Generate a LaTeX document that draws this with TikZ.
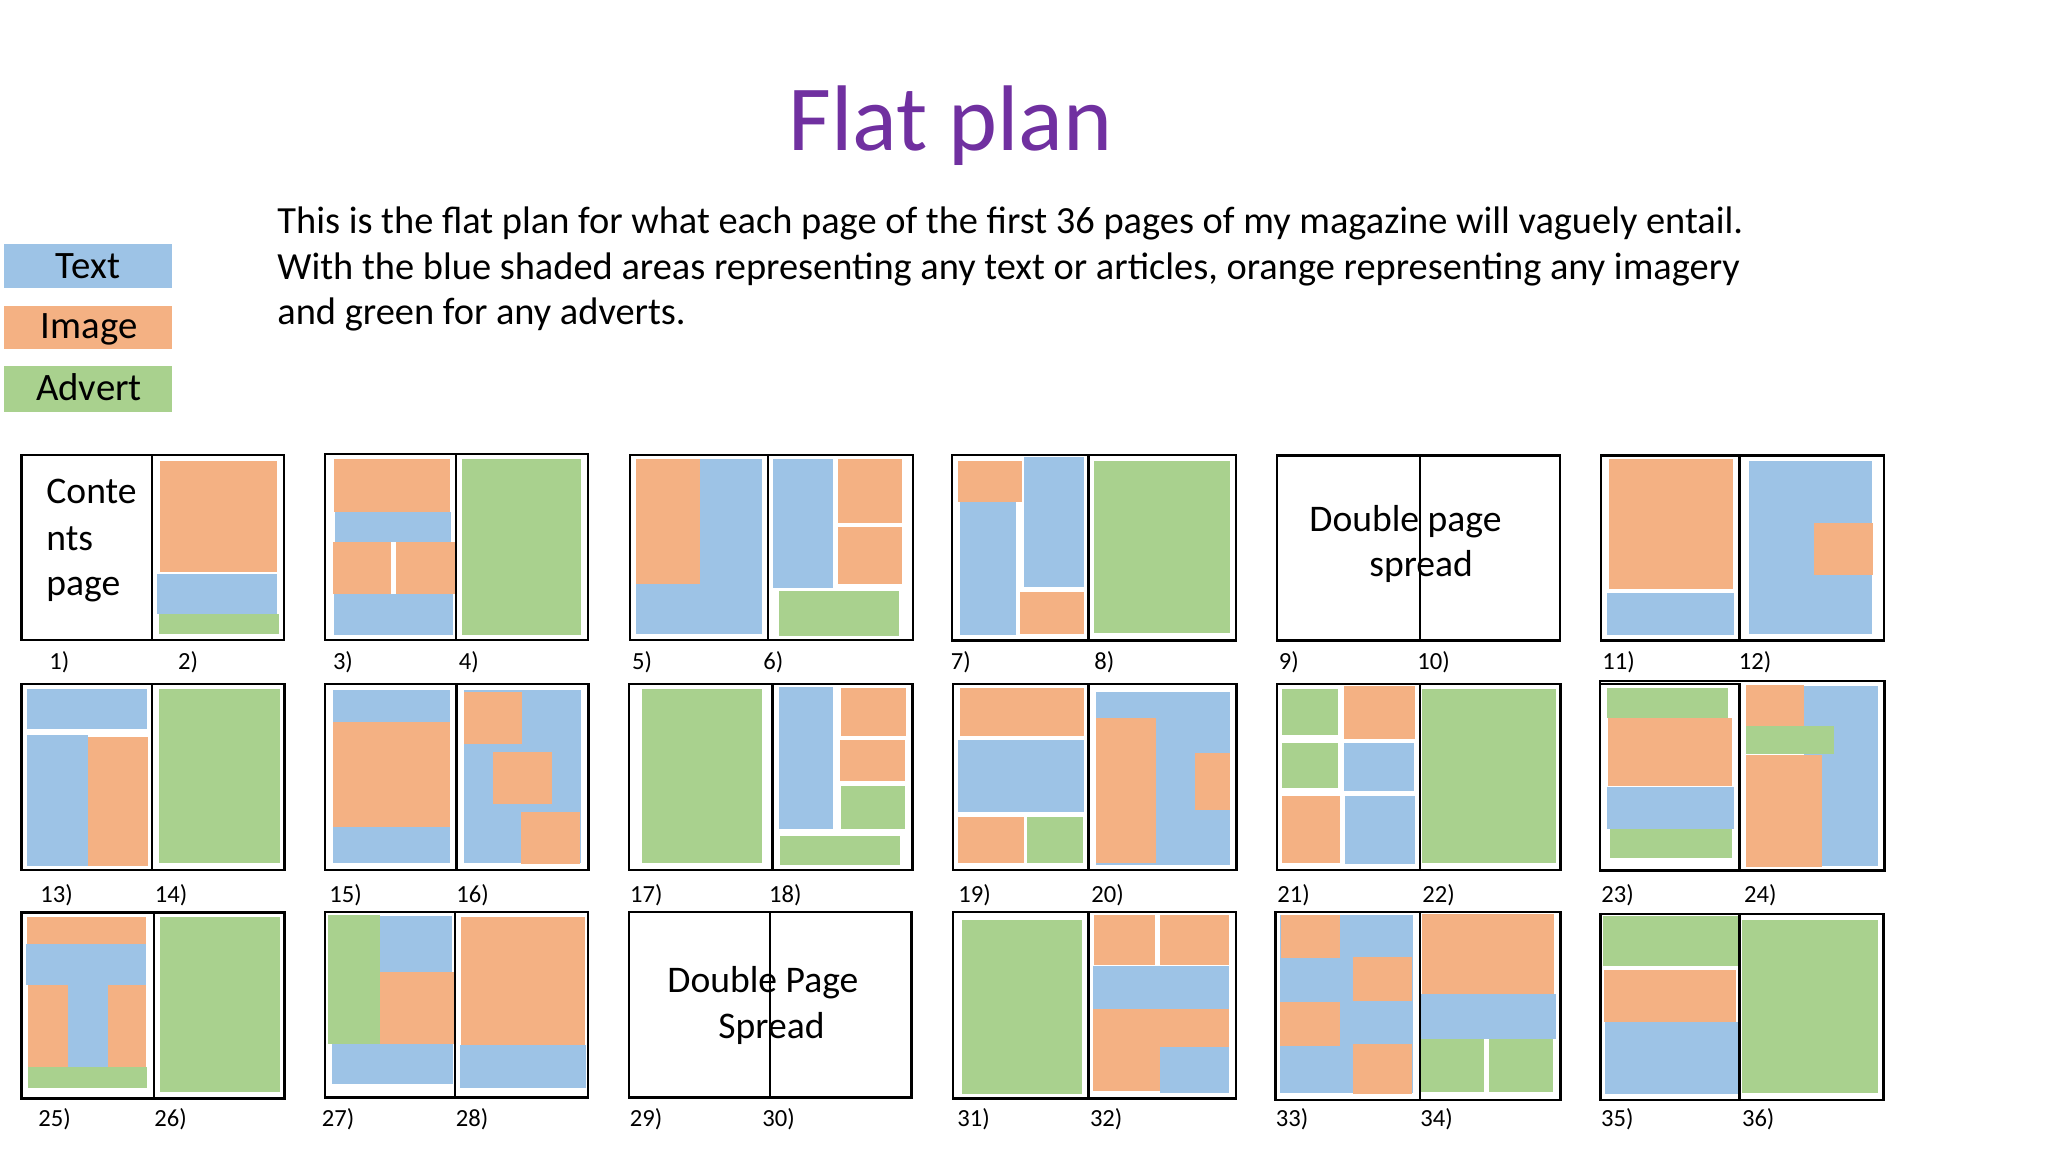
\documentclass[tikz,border=0pt]{standalone}
\usepackage{fontspec}
\setmainfont{Carlito}
\definecolor{txtc}{HTML}{9DC3E6}
\definecolor{imgc}{HTML}{F4B183}
\definecolor{advc}{HTML}{A9D18E}
\definecolor{titlec}{HTML}{7030A0}
\newcommand\pgframe[5]{\draw[pg] (#1,#2) rectangle (#3,#5); \draw[pg] (#3,#2) rectangle (#4,#5);}
\begin{document}
\begin{tikzpicture}[x=0.5pt,y=-0.5pt,
  txt/.style={fill=txtc},
  img/.style={fill=imgc},
  adv/.style={fill=advc},
  pg/.style={draw=black,line width=1.4pt},
  thinpg/.style={draw=black,line width=0.7pt},
  num/.style={anchor=base west,inner sep=0pt,font=\fontsize{12.3}{14}\selectfont},
  body/.style={anchor=base west,inner sep=0pt,font=\fontsize{18.8}{22}\selectfont},
  para/.style={anchor=base west,inner sep=0pt,font=\fontsize{19.2}{23}\selectfont},
  leg/.style={anchor=base,inner sep=0pt,font=\fontsize{19.4}{22}\selectfont}]
\useasboundingbox[fill=white] (0,0) rectangle (2048,1152);

% title and description
\node[anchor=base west,inner sep=0pt,text=titlec,font=\fontsize{46.6}{52}\selectfont] (title) at (788,150) {Flat plan};
\node[para] (para1) at (277,233) {This is the flat plan for what each page of the first 36 pages of my magazine will vaguely entail.};
\node[para] (para2) at (277,279) {With the blue shaded areas representing any text or articles, orange representing any imagery};
\node[para] (para3) at (277,324) {and green for any adverts.};

% legend
\fill[txt] (4,244) rectangle (172,288);
\fill[img] (4,306) rectangle (172,349);
\fill[adv] (4,366) rectangle (172,412);
\node[leg] (legtxt) at (88,278.5) {Text};
\node[leg] (legimg) at (89,338) {Image};
\node[leg] (legadv) at (89,400.5) {Advert};

% ===== Row 1 =====
% 1-2
\fill[img] (160,461) rectangle (277,572);
\fill[txt] (157,574) rectangle (277,614);
\fill[adv] (158.5,614.3) rectangle (278.6,634);
\pgframe{21.5}{455}{152}{284}{640}
\node[body] (c1) at (46,503) {Conte};
\node[body] (c2) at (46,550) {nts};
\node[body] (c3) at (46,595) {page};
% 3-4
\fill[img] (334,459) rectangle (450,511.7);
\fill[txt] (335,511.7) rectangle (451,541.7);
\fill[img] (332.6,541.7) rectangle (391,594);
\fill[img] (396,541.7) rectangle (454.5,594);
\fill[txt] (333.5,594) rectangle (453,635);
\fill[adv] (462,459) rectangle (581,635);
\pgframe{325}{454}{456}{588}{640}
% 5-6
\fill[txt] (636,459) rectangle (762,634.3);
\fill[img] (636,459) rectangle (700,584);
\fill[txt] (772.7,459) rectangle (833,587.7);
\fill[img] (838,459) rectangle (902,523);
\fill[img] (838,527) rectangle (902,584);
\fill[adv] (778.5,591) rectangle (899,635.7);
\pgframe{630}{455}{768}{913}{640}
% 7-8
\fill[img] (958,460.7) rectangle (1022,502);
\fill[txt] (960,502) rectangle (1016,634.7);
\fill[txt] (1023.6,457) rectangle (1084,587);
\fill[img] (1020.4,592) rectangle (1084,634);
\fill[adv] (1094,460.7) rectangle (1230,633);
\pgframe{952}{455}{1088.7}{1236}{640.5}
% 9-10
\draw[pg] (1277,455.5) rectangle (1560,640.5);
\draw[thinpg] (1420,455.5) -- (1420,640.5);
\node[body] (d1) at (1309,531.7) {Double page};
\node[body] (d2) at (1369,576.7) {spread};
% 11-12
\fill[img] (1609,459.3) rectangle (1732.7,588.7);
\fill[txt] (1607,593.3) rectangle (1733.5,635.3);
\fill[txt] (1749,461.3) rectangle (1872,634.3);
\fill[img] (1814,522.7) rectangle (1873,575);
\pgframe{1601}{455.3}{1739.6}{1884}{640.5}

% ===== Row 2 =====
% 13-14
\fill[txt] (26.8,689) rectangle (146.9,729.3);
\fill[txt] (26.8,735) rectangle (88,865.7);
\fill[img] (88,736.7) rectangle (148.2,865.7);
\fill[adv] (159.4,688.7) rectangle (280.4,863.3);
\pgframe{21.5}{684}{152}{284.4}{870}
% 15-16
\fill[txt] (332.6,690) rectangle (449.6,862.7);
\fill[img] (332.6,721.7) rectangle (449.6,827.3);
\fill[txt] (464.3,690) rectangle (581.25,862.7);
\fill[img] (464.3,692) rectangle (522.3,744);
\fill[img] (493.3,752) rectangle (551.8,804);
\fill[img] (521.4,812) rectangle (580.4,864.3);
\pgframe{325}{684}{456.7}{588.4}{870}
% 17-18
\fill[adv] (641.9,689.3) rectangle (762,863.3);
\fill[txt] (779,686.7) rectangle (833.4,829.3);
\fill[img] (841.4,688) rectangle (906.2,736);
\fill[img] (840,740) rectangle (904.8,781);
\fill[adv] (841.4,786) rectangle (904.8,829.3);
\fill[adv] (779.8,835.7) rectangle (900.4,865);
\pgframe{629}{684}{772.7}{912.4}{870}
% 19-20
\fill[img] (960,688.3) rectangle (1084,736.3);
\fill[txt] (958,739.7) rectangle (1084,812.3);
\fill[img] (958,817) rectangle (1024,862.7);
\fill[adv] (1026.7,817) rectangle (1082.5,862.7);
\fill[txt] (1095.9,691.7) rectangle (1229.8,865);
\fill[img] (1096,718) rectangle (1155.7,863.3);
\fill[img] (1195,752.7) rectangle (1229.8,810);
\pgframe{953}{684}{1088.7}{1236.5}{870}
% 21-22
\fill[adv] (1282.4,688.7) rectangle (1337.6,735);
\fill[img] (1344,686) rectangle (1415,738.7);
\fill[adv] (1282.4,742.7) rectangle (1337.6,788.3);
\fill[txt] (1344,742.7) rectangle (1414.3,790.7);
\fill[img] (1282,796) rectangle (1340,862.7);
\fill[txt] (1345,796) rectangle (1415,864);
\fill[adv] (1422.4,689) rectangle (1556.3,863.3);
\pgframe{1277}{684}{1420}{1560.4}{870}
% 23-24
\fill[adv] (1607.3,688.3) rectangle (1728.2,718.3);
\fill[img] (1608.2,718.3) rectangle (1732.2,786);
\fill[adv] (1609.8,829.3) rectangle (1732.2,857.7);
\fill[txt] (1607.3,787.3) rectangle (1733.5,829.3);
\fill[txt] (1804,685.7) rectangle (1877.6,866);
\fill[img] (1745.7,685) rectangle (1804,726);
\fill[adv] (1745.7,726) rectangle (1833.5,754);
\fill[img] (1745.7,755) rectangle (1822.4,866.7);
\draw[pg] (1600,681) rectangle (1884.5,870.7);
\draw[pg] (1600,684) rectangle (1739.6,870.7);

% ===== Row 3 =====
% 25-26
\fill[img] (26.8,917.3) rectangle (146.4,944.3);
\fill[txt] (25.9,944.3) rectangle (146.4,985);
\fill[txt] (67.9,985) rectangle (108,1067.3);
\fill[img] (27.7,985) rectangle (67.9,1067.3);
\fill[img] (108,985) rectangle (146.4,1067.3);
\fill[adv] (27.7,1067.3) rectangle (147.3,1087.7);
\fill[adv] (159.8,917.3) rectangle (280,1091.7);
\pgframe{21.5}{912.7}{154}{284.4}{1098.3}
% 27-28
\fill[adv] (328,915) rectangle (380,1044);
\fill[txt] (380,916) rectangle (452.2,972.3);
\fill[img] (380,972.3) rectangle (454.5,1044);
\fill[txt] (332,1044) rectangle (453,1084.3);
\fill[img] (460.7,916.7) rectangle (584.8,1045.3);
\fill[txt] (459.8,1045.3) rectangle (586.2,1087.7);
\pgframe{325}{912}{455}{588}{1097.7}
% 29-30
\draw[pg] (629,912) rectangle (911.5,1097.7);
\draw[thinpg] (770,912) -- (770,1097.7);
\node[body] (e1) at (667,992.7) {Double Page};
\node[body] (e2) at (718,1038.3) {Spread};
% 31-32
\fill[adv] (962,920) rectangle (1082,1094);
\fill[img] (1094,915) rectangle (1155.3,965);
\fill[img] (1160,915) rectangle (1229.4,965);
\fill[txt] (1093.2,965.7) rectangle (1229.4,1009.3);
\fill[img] (1093.2,1009.3) rectangle (1229.4,1091.3);
\fill[txt] (1160,1046.7) rectangle (1229.4,1092.7);
\pgframe{953}{912}{1088.7}{1236}{1098.3}
% 33-34
\fill[txt] (1279.6,915.3) rectangle (1413,1093.3);
\fill[img] (1281.2,914.7) rectangle (1340.4,957.7);
\fill[img] (1353,956.7) rectangle (1411.8,1001);
\fill[img] (1280.4,1001.7) rectangle (1339.6,1045.7);
\fill[img] (1353,1044) rectangle (1412.2,1094.3);
\fill[img] (1422.4,914) rectangle (1553.9,994.3);
\fill[txt] (1421.2,994.3) rectangle (1555.9,1039.3);
\fill[adv] (1420.4,1039.3) rectangle (1483.7,1091.7);
\fill[adv] (1489.4,1039.3) rectangle (1553,1092.3);
\pgframe{1275.5}{912}{1420}{1560.4}{1100}
% 35-36
\fill[adv] (1602.9,915.7) rectangle (1737.6,965.7);
\fill[img] (1604,970) rectangle (1736,1021.7);
\fill[txt] (1605,1021.7) rectangle (1738.4,1094.3);
\fill[adv] (1742.4,920) rectangle (1877.6,1093.3);
\pgframe{1600.8}{914}{1739.6}{1883.7}{1100}

% ===== page numbers =====
\node[num] (n1) at (49,669) {1)};
\node[num] (n2) at (177.7,669) {2)};
\node[num] (n3) at (332.6,669) {3)};
\node[num] (n4) at (458.5,669) {4)};
\node[num] (n5) at (631.7,669) {5)};
\node[num] (n6) at (762.9,669) {6)};
\node[num] (n7) at (950.4,669) {7)};
\node[num] (n8) at (1094,669) {8)};
\node[num] (n9) at (1278.5,669) {9)};
\node[num] (n10) at (1417,669) {10)};
\node[num] (n11) at (1602,669) {11)};
\node[num] (n12) at (1738.4,669) {12)};
\node[num] (n13) at (40,902.7) {13)};
\node[num] (n14) at (154.5,902.7) {14)};
\node[num] (n15) at (329,902.7) {15)};
\node[num] (n16) at (456,902.7) {16)};
\node[num] (n17) at (629.8,902.7) {17)};
\node[num] (n18) at (768.7,902.7) {18)};
\node[num] (n19) at (958,902.7) {19)};
\node[num] (n20) at (1091,902.7) {20)};
\node[num] (n21) at (1277,902.7) {21)};
\node[num] (n22) at (1422,902.7) {22)};
\node[num] (n23) at (1601,902.7) {23)};
\node[num] (n24) at (1743.7,902.7) {24)};
\node[num] (n25) at (38,1126) {25)};
\node[num] (n26) at (154,1126) {26)};
\node[num] (n27) at (321.4,1126) {27)};
\node[num] (n28) at (455.4,1126) {28)};
\node[num] (n29) at (629.5,1126) {29)};
\node[num] (n30) at (762,1126) {30)};
\node[num] (n31) at (957,1126) {31)};
\node[num] (n32) at (1089.6,1126) {32)};
\node[num] (n33) at (1275.5,1126) {33)};
\node[num] (n34) at (1420,1126) {34)};
\node[num] (n35) at (1600.8,1126) {35)};
\node[num] (n36) at (1741.6,1126) {36)};
\end{tikzpicture}
\end{document}
